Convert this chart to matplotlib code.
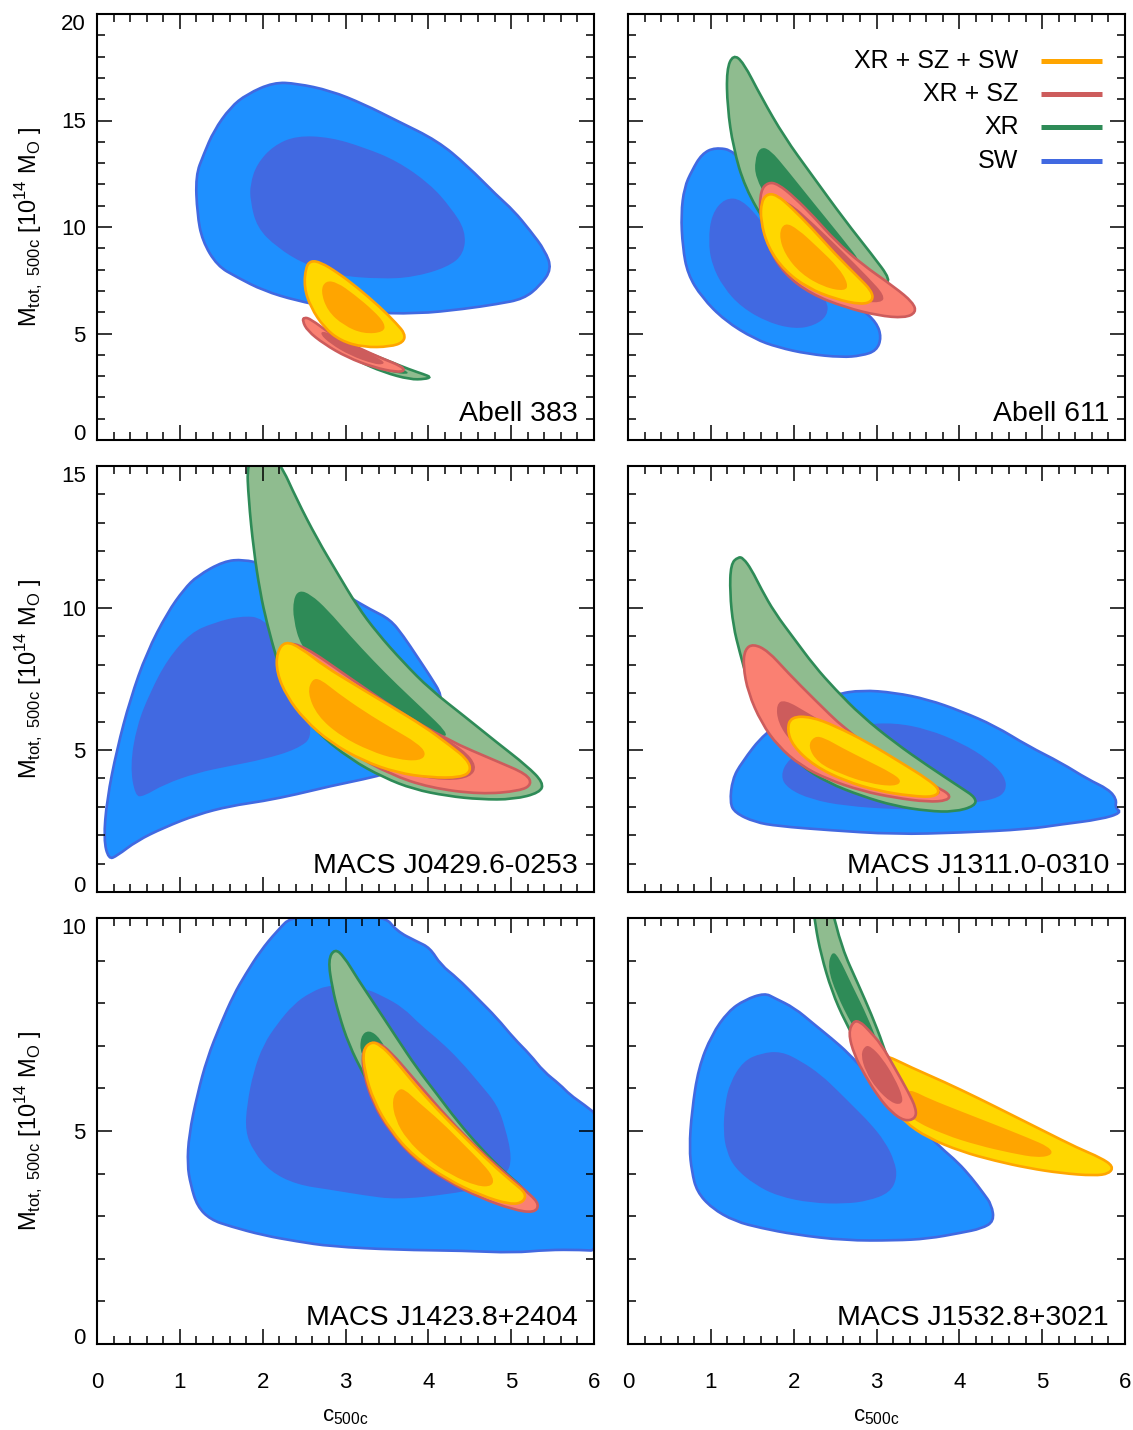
import matplotlib
matplotlib.use("Agg")
import matplotlib.pyplot as plt
from matplotlib.ticker import MultipleLocator
from matplotlib.path import Path
from matplotlib.patches import PathPatch

plt.rcParams["font.family"] = ["Liberation Sans", "DejaVu Sans"]
plt.rcParams["mathtext.fontset"] = "custom"
plt.rcParams["mathtext.rm"] = "Liberation Sans"

# colours per data combination: outer fill, inner fill, edge
SETS = ["SW", "XR", "XR + SZ", "XR + SZ + SW"]
FILL_OUTER = {"SW": "#1E90FF", "XR": "#8FBC8F", "XR + SZ": "#FA8072", "XR + SZ + SW": "#FFD700"}
FILL_INNER = {"SW": "#4169E1", "XR": "#2E8B57", "XR + SZ": "#CD5C5C", "XR + SZ + SW": "#FFA500"}
EDGE = {"SW": "#4169E1", "XR": "#2E8B57", "XR + SZ": "#CD5C5C", "XR + SZ + SW": "#FFA500"}

# contour outlines, (c500c, Mtot) pairs
A383_SW_OUT = [(1.19, 12.41), (1.21, 10.61), (1.27, 9.36), (1.45, 8.18), (1.69, 7.64), (2.01, 7.01),
               (2.41, 6.54), (2.82, 6.23), (3.22, 5.99), (3.86, 5.92), (4.43, 6.15), (4.83, 6.38),
               (5.15, 6.62), (5.35, 7.25), (5.49, 8.03), (5.41, 8.89), (5.23, 9.83), (5.03, 10.77),
               (4.83, 11.47), (4.47, 12.88), (4.11, 14.05), (3.62, 14.99), (3.22, 15.77), (2.82, 16.40),
               (2.41, 16.74), (2.13, 16.79), (1.81, 16.24), (1.61, 15.62), (1.41, 14.52), (1.29, 13.43)]
A383_SW_IN = [(1.85, 11.24), (1.93, 9.98), (2.17, 9.05), (2.50, 8.26), (2.90, 7.72), (3.42, 7.56),
              (3.82, 7.64), (4.23, 8.11), (4.43, 8.73), (4.45, 9.83), (4.27, 10.92), (4.02, 12.02),
              (3.62, 13.11), (3.22, 13.74), (2.82, 14.21), (2.41, 14.29), (2.13, 13.82), (1.93, 12.96),
              (1.85, 12.02)]
A383_XR_OUT = [(2.82, 4.51), (3.14, 3.72), (3.46, 3.18), (3.78, 2.84), (3.96, 2.86), (4.03, 2.95),
               (3.95, 3.08), (3.78, 3.30), (3.46, 3.80), (3.10, 4.35), (2.82, 4.82)]
A383_XR_IN = [(2.90, 4.19), (3.22, 3.57), (3.54, 3.18), (3.76, 3.07), (3.74, 3.26), (3.50, 3.57),
              (3.18, 4.04), (2.90, 4.51)]
A383_XRSZ_OUT = [(2.48, 5.60), (2.54, 5.13), (2.74, 4.51), (3.02, 3.88), (3.34, 3.41), (3.62, 3.18),
                 (3.72, 3.26), (3.66, 3.49), (3.46, 3.80), (3.14, 4.35), (2.82, 4.98), (2.58, 5.68),
                 (2.50, 5.76)]
A383_XRSZ_IN = [(2.69, 4.98), (2.82, 4.51), (3.06, 3.96), (3.34, 3.57), (3.46, 3.54), (3.46, 3.72),
                (3.22, 4.19), (2.94, 4.74), (2.74, 5.13)]
A383_ALL_OUT = [(2.52, 8.11), (2.50, 7.17), (2.58, 6.23), (2.74, 5.29), (2.94, 4.66), (3.22, 4.35),
                (3.54, 4.38), (3.70, 4.59), (3.72, 4.98), (3.62, 5.45), (3.42, 6.23), (3.14, 7.17),
                (2.90, 7.87), (2.70, 8.34), (2.58, 8.42)]
A383_ALL_IN = [(2.70, 7.01), (2.78, 6.07), (2.98, 5.37), (3.22, 4.98), (3.46, 5.06), (3.48, 5.45),
               (3.34, 6.07), (3.10, 6.85), (2.90, 7.40), (2.76, 7.48)]

A611_SW_OUT = [(1.05, 13.74), (1.29, 13.58), (1.53, 12.18), (1.81, 10.30), (2.13, 8.58), (2.50, 7.01),
               (2.82, 6.15), (3.00, 5.52), (3.06, 4.82), (3.00, 4.19), (2.82, 3.96), (2.58, 3.88),
               (2.17, 4.04), (1.81, 4.35), (1.53, 4.74), (1.17, 5.60), (0.89, 6.70), (0.72, 7.79),
               (0.66, 9.05), (0.64, 10.61), (0.68, 11.86), (0.77, 12.64), (0.89, 13.43)]
A611_SW_IN = [(0.97, 9.36), (1.01, 10.61), (1.17, 11.36), (1.37, 11.31), (1.61, 10.30), (1.89, 8.73),
              (2.17, 7.48), (2.41, 6.54), (2.41, 5.84), (2.25, 5.37), (2.01, 5.21), (1.69, 5.52),
              (1.37, 6.23), (1.15, 7.17), (1.01, 8.26)]
A611_XR_OUT = [(1.27, 18.10), (1.39, 17.75), (1.61, 16.09), (1.89, 14.21), (2.21, 12.49), (2.62, 10.30),
               (2.94, 8.73), (3.18, 7.48), (3.06, 7.32), (2.62, 8.11), (2.09, 9.05), (1.69, 9.98),
               (1.41, 11.86), (1.27, 13.74), (1.20, 15.62), (1.19, 17.40)]
A611_XR_IN = [(1.59, 13.74), (1.71, 13.66), (1.93, 12.64), (2.25, 11.08), (2.58, 9.51), (2.86, 8.11),
              (2.62, 8.11), (2.09, 9.98), (1.69, 11.24), (1.54, 12.33), (1.53, 13.11)]
A611_XRSZ_OUT = [(1.69, 12.10), (1.60, 11.71), (1.59, 10.61), (1.69, 9.05), (1.89, 7.79), (2.21, 6.85),
                 (2.62, 6.23), (3.02, 5.84), (3.34, 5.73), (3.48, 5.99), (3.44, 6.46), (3.22, 7.17),
                 (2.82, 8.26), (2.50, 9.36), (2.25, 10.45), (2.01, 11.39), (1.81, 12.02)]
A611_XRSZ_IN = [(1.69, 11.47), (1.65, 10.61), (1.77, 9.05), (2.01, 7.79), (2.33, 7.01), (2.74, 6.54),
                (3.06, 6.42), (3.10, 6.78), (2.90, 7.64), (2.58, 8.89), (2.25, 10.14), (1.93, 11.24)]
A611_ALL_OUT = [(1.69, 11.58), (1.61, 11.21), (1.60, 10.30), (1.69, 9.05), (1.89, 7.95), (2.17, 7.14),
                (2.50, 6.62), (2.82, 6.35), (2.96, 6.54), (2.94, 7.01), (2.78, 7.64), (2.50, 8.73),
                (2.21, 9.98), (1.97, 10.92), (1.81, 11.47)]
A611_ALL_IN = [(1.89, 10.22), (1.82, 9.67), (1.89, 8.73), (2.09, 7.79), (2.37, 7.17), (2.62, 6.98),
               (2.66, 7.32), (2.54, 8.11), (2.29, 9.05), (2.05, 9.91)]

M0429_SW_OUT = [(0.14, 1.15), (0.08, 1.85), (0.12, 3.26), (0.24, 5.02), (0.40, 6.78), (0.60, 8.43),
                (0.85, 9.84), (1.05, 10.66), (1.21, 11.13), (1.53, 11.65), (1.77, 11.71), (2.01, 11.54),
                (2.41, 11.24), (2.82, 10.77), (3.06, 10.36), (3.30, 9.95), (3.54, 9.60), (3.70, 9.01),
                (3.86, 8.31), (4.02, 7.61), (4.17, 6.90), (4.11, 6.43), (3.82, 5.38), (3.54, 4.20),
                (3.22, 3.97), (2.82, 3.73), (2.41, 3.44), (2.01, 3.20), (1.61, 3.03), (1.21, 2.73),
                (0.81, 2.27), (0.48, 1.80), (0.24, 1.27)]
M0429_SW_IN = [(0.46, 3.38), (0.40, 4.44), (0.48, 5.85), (0.64, 7.02), (0.85, 8.19), (1.13, 9.13),
               (1.41, 9.48), (1.73, 9.72), (2.01, 9.66), (2.25, 8.66), (2.46, 7.02), (2.62, 5.49),
               (2.41, 5.02), (2.01, 4.67), (1.61, 4.44), (1.21, 4.20), (0.81, 3.79), (0.56, 3.36)]
M0429_XR_OUT = [(1.81, 15.12), (1.97, 15.70), (2.21, 15.12), (2.41, 13.83), (2.66, 12.42), (2.90, 11.24),
                (3.14, 10.07), (3.38, 9.13), (3.70, 8.08), (4.02, 7.14), (4.43, 6.20), (4.83, 5.26),
                (5.19, 4.44), (5.39, 3.85), (5.35, 3.50), (5.03, 3.26), (4.63, 3.26), (4.23, 3.38),
                (3.82, 3.62), (3.46, 4.03), (3.06, 4.67), (2.66, 5.61), (2.33, 6.78), (2.17, 8.19),
                (2.05, 9.48), (1.97, 10.54), (1.89, 12.07), (1.83, 13.83)]
M0429_XR_IN = [(2.44, 10.63), (2.58, 10.48), (2.78, 9.95), (3.06, 9.01), (3.34, 8.13), (3.62, 7.31),
               (3.94, 6.43), (4.23, 5.61), (4.19, 5.43), (3.82, 5.85), (3.42, 6.55), (3.02, 7.37),
               (2.66, 8.08), (2.46, 8.66), (2.37, 9.60), (2.37, 10.31)]
M0429_XRSZ_OUT = [(2.19, 8.43), (2.27, 8.78), (2.50, 8.66), (3.02, 7.60), (3.62, 6.40), (4.23, 5.35),
                  (4.83, 4.60), (5.19, 4.15), (5.25, 3.79), (5.11, 3.56), (4.63, 3.44), (4.02, 3.67),
                  (3.54, 4.14), (3.06, 4.91), (2.58, 5.96), (2.29, 7.02), (2.19, 7.96)]
M0429_XRSZ_IN = [(2.41, 8.43), (2.82, 7.72), (3.42, 6.67), (4.02, 5.73), (4.43, 5.02), (4.59, 4.44),
                 (4.51, 4.03), (4.23, 3.91), (3.82, 4.08), (3.30, 4.67), (2.82, 5.49), (2.46, 6.55),
                 (2.33, 7.72)]
M0429_ALL_OUT = [(2.27, 8.84), (2.17, 8.43), (2.17, 7.72), (2.29, 6.90), (2.50, 6.08), (2.82, 5.26),
                 (3.22, 4.61), (3.62, 4.20), (4.02, 4.03), (4.39, 4.03), (4.52, 4.26), (4.47, 4.67),
                 (4.27, 5.14), (3.94, 5.85), (3.54, 6.55), (3.14, 7.25), (2.74, 7.96), (2.46, 8.60)]
M0429_ALL_IN = [(2.60, 7.51), (2.54, 7.02), (2.66, 6.20), (2.94, 5.49), (3.30, 4.96), (3.62, 4.67),
                (3.90, 4.61), (3.98, 4.88), (3.86, 5.26), (3.58, 5.73), (3.22, 6.37), (2.90, 7.02),
                (2.70, 7.49)]

M1311_SW_OUT = [(1.23, 3.15), (1.26, 3.97), (1.37, 4.55), (1.65, 5.61), (2.09, 6.43), (2.50, 6.96),
                (2.82, 7.11), (3.22, 7.02), (3.62, 6.78), (4.02, 6.37), (4.43, 5.85), (4.83, 5.14),
                (5.23, 4.55), (5.55, 3.97), (5.80, 3.62), (5.90, 3.26), (5.88, 2.97), (5.96, 2.79),
                (5.71, 2.56), (5.23, 2.38), (4.83, 2.21), (4.02, 2.09), (3.22, 2.03), (2.41, 2.18),
                (1.81, 2.32), (1.53, 2.46), (1.29, 2.79)]
M1311_SW_IN = [(1.84, 4.08), (1.93, 4.67), (2.25, 5.26), (2.82, 5.90), (3.22, 5.96), (3.62, 5.73),
               (4.02, 5.26), (4.35, 4.67), (4.55, 4.08), (4.57, 3.56), (4.43, 3.26), (4.02, 3.09),
               (3.62, 2.91), (3.22, 2.91), (2.62, 3.03), (2.21, 3.26), (1.93, 3.64)]
M1311_XR_OUT = [(1.33, 11.80), (1.24, 11.55), (1.23, 10.54), (1.27, 9.37), (1.35, 8.43), (1.45, 7.37),
                (1.61, 6.20), (1.81, 5.26), (2.09, 4.44), (2.41, 3.85), (2.82, 3.38), (3.22, 3.03),
                (3.62, 2.85), (3.94, 2.82), (4.19, 3.03), (4.20, 3.32), (4.02, 3.67), (3.62, 4.44),
                (3.22, 5.26), (2.82, 6.20), (2.50, 7.14), (2.25, 7.96), (2.01, 8.90), (1.77, 9.84),
                (1.61, 10.66), (1.49, 11.36), (1.39, 11.76)]
M1311_XRSZ_OUT = [(1.51, 8.74), (1.41, 8.54), (1.39, 7.96), (1.45, 7.02), (1.61, 5.96), (1.81, 5.14),
                  (2.09, 4.44), (2.41, 3.97), (2.82, 3.56), (3.22, 3.32), (3.62, 3.17), (3.86, 3.22),
                  (3.89, 3.44), (3.70, 3.73), (3.42, 4.20), (3.02, 4.91), (2.62, 5.73), (2.25, 6.78),
                  (1.93, 7.72), (1.69, 8.49)]
M1311_XRSZ_IN = [(1.89, 6.78), (1.79, 6.61), (1.81, 5.96), (1.97, 5.26), (2.25, 4.67), (2.62, 4.08),
                 (3.02, 3.67), (3.42, 3.44), (3.74, 3.38), (3.78, 3.56), (3.62, 3.85), (3.30, 4.32),
                 (2.90, 5.02), (2.50, 5.73), (2.17, 6.31)]
M1311_ALL_OUT = [(1.97, 6.17), (1.92, 5.73), (1.99, 5.14), (2.25, 4.44), (2.62, 3.91), (3.02, 3.56),
                 (3.42, 3.38), (3.70, 3.34), (3.77, 3.59), (3.62, 3.97), (3.30, 4.55), (2.90, 5.26),
                 (2.50, 5.85), (2.21, 6.17)]
M1311_ALL_IN = [(2.25, 5.49), (2.17, 5.14), (2.29, 4.55), (2.58, 4.14), (2.90, 3.83), (3.22, 3.71),
                (3.31, 3.91), (3.18, 4.20), (2.90, 4.61), (2.58, 5.08), (2.37, 5.43)]

M1423_SW_OUT = [(1.09, 4.21), (1.11, 4.91), (1.21, 5.85), (1.33, 6.71), (1.49, 7.50), (1.65, 8.20),
                (1.79, 8.67), (1.97, 9.22), (2.17, 9.69), (2.37, 10.08), (3.46, 10.08), (3.62, 9.69),
                (3.86, 9.45), (4.02, 9.30), (4.15, 8.90), (4.35, 8.59), (4.59, 8.12), (4.83, 7.65),
                (5.03, 7.18), (5.23, 6.79), (5.39, 6.40), (5.59, 6.09), (5.71, 5.85), (5.88, 5.62),
                (6.08, 5.31), (6.08, 2.18), (5.84, 2.21), (5.43, 2.21), (5.03, 2.14), (4.43, 2.19),
                (3.62, 2.21), (2.82, 2.29), (2.41, 2.41), (2.01, 2.55), (1.61, 2.76), (1.37, 2.92),
                (1.21, 3.23), (1.13, 3.74)]
M1423_SW_IN = [(1.79, 4.99), (1.81, 5.62), (1.89, 6.40), (2.01, 7.03), (2.17, 7.50), (2.37, 7.97),
               (2.58, 8.26), (2.82, 8.44), (3.22, 8.36), (3.46, 8.16), (3.70, 7.89), (3.90, 7.50),
               (4.15, 7.10), (4.39, 6.64), (4.63, 6.09), (4.83, 5.62), (4.93, 5.07), (5.01, 4.37),
               (4.95, 3.97), (4.63, 3.66), (4.23, 3.51), (3.62, 3.39), (3.22, 3.49), (2.82, 3.62),
               (2.41, 3.74), (2.09, 4.05), (1.89, 4.52)]
M1423_XR_OUT = [(2.87, 9.28), (2.79, 9.02), (2.84, 8.36), (2.92, 7.73), (3.04, 7.03), (3.22, 6.32),
                (3.42, 5.62), (3.62, 4.99), (3.86, 4.44), (4.23, 3.90), (4.63, 3.51), (5.03, 3.26),
                (5.20, 3.35), (5.15, 3.66), (4.91, 4.05), (4.63, 4.60), (4.35, 5.23), (4.11, 5.85),
                (3.86, 6.48), (3.62, 7.18), (3.38, 7.89), (3.14, 8.59), (2.98, 9.10)]
M1423_XR_IN = [(3.28, 7.38), (3.18, 7.22), (3.18, 6.79), (3.34, 6.48), (3.54, 6.71), (3.42, 7.18)]
M1423_XRSZ_OUT = [(3.30, 7.07), (3.20, 6.87), (3.22, 6.32), (3.34, 5.62), (3.54, 4.99), (3.82, 4.37),
                  (4.23, 3.82), (4.63, 3.43), (5.03, 3.15), (5.28, 3.08), (5.34, 3.27), (5.23, 3.51),
                  (4.99, 3.90), (4.63, 4.52), (4.23, 5.31), (3.82, 6.24), (3.54, 6.87), (3.40, 7.07)]
M1423_ALL_OUT = [(3.31, 7.10), (3.21, 6.90), (3.23, 6.40), (3.34, 5.70), (3.54, 5.03), (3.82, 4.41),
                 (4.23, 3.86), (4.63, 3.49), (4.99, 3.27), (5.15, 3.33), (5.18, 3.54), (5.03, 3.78),
                 (4.75, 4.25), (4.43, 4.87), (4.11, 5.50), (3.82, 6.13), (3.58, 6.71), (3.42, 7.02)]
M1423_ALL_IN = [(3.64, 5.99), (3.56, 5.74), (3.60, 5.27), (3.74, 4.80), (3.98, 4.35), (4.27, 3.97),
                (4.59, 3.70), (4.77, 3.70), (4.79, 3.90), (4.67, 4.21), (4.43, 4.68), (4.15, 5.23),
                (3.86, 5.71), (3.72, 5.97)]

M1532_SW_OUT = [(0.74, 4.60), (0.77, 5.46), (0.85, 6.48), (1.01, 7.26), (1.21, 7.81), (1.41, 8.08),
                (1.65, 8.24), (1.77, 8.12), (2.01, 7.89), (2.25, 7.50), (2.46, 7.17), (2.66, 6.83),
                (2.90, 6.32), (3.22, 5.70), (3.54, 5.07), (3.78, 4.60), (3.98, 4.27), (4.15, 3.90),
                (4.29, 3.54), (4.39, 3.27), (4.42, 2.88), (4.27, 2.71), (4.02, 2.61), (3.62, 2.47),
                (3.22, 2.43), (2.62, 2.43), (2.01, 2.57), (1.61, 2.72), (1.29, 2.88), (1.01, 3.19),
                (0.83, 3.58), (0.77, 4.05)]
M1532_SW_IN = [(1.15, 4.99), (1.17, 5.62), (1.23, 6.13), (1.39, 6.64), (1.61, 6.83), (1.85, 6.87),
               (2.09, 6.64), (2.33, 6.32), (2.54, 5.93), (2.74, 5.54), (2.92, 5.19), (3.10, 4.76),
               (3.22, 4.29), (3.25, 3.90), (3.16, 3.55), (2.90, 3.36), (2.62, 3.29), (2.21, 3.31),
               (1.81, 3.47), (1.53, 3.74), (1.29, 4.13), (1.19, 4.52)]
M1532_XR_OUT = [(2.23, 10.40), (2.44, 10.40), (2.58, 9.30), (2.78, 8.44), (2.94, 7.73), (3.08, 7.03),
                (3.18, 6.40), (3.06, 6.32), (2.82, 6.87), (2.62, 7.57), (2.46, 8.28), (2.33, 9.14),
                (2.26, 9.84)]
M1532_XR_IN = [(2.46, 9.22), (2.54, 9.10), (2.70, 8.44), (2.90, 7.65), (3.04, 6.95), (2.90, 6.87),
               (2.70, 7.50), (2.52, 8.20), (2.41, 8.83)]
M1532_XRSZ_OUT = [(2.72, 7.58), (2.66, 7.30), (2.73, 6.79), (2.86, 6.31), (3.02, 5.81), (3.18, 5.44),
                  (3.34, 5.23), (3.47, 5.29), (3.48, 5.52), (3.38, 5.93), (3.22, 6.48), (3.06, 7.03),
                  (2.90, 7.38), (2.80, 7.57)]
M1532_XRSZ_IN = [(2.86, 7.00), (2.81, 6.79), (2.87, 6.39), (3.00, 5.99), (3.18, 5.66), (3.30, 5.62),
                 (3.32, 5.79), (3.22, 6.24), (3.07, 6.71), (2.93, 6.99)]
M1532_ALL_OUT = [(2.82, 6.71), (3.06, 6.83), (3.42, 6.49), (3.82, 6.15), (4.23, 5.77), (4.63, 5.38),
                 (5.03, 4.99), (5.43, 4.60), (5.71, 4.37), (5.86, 4.17), (5.81, 4.00), (5.63, 3.95),
                 (5.23, 4.01), (4.83, 4.13), (4.43, 4.30), (4.02, 4.52), (3.62, 4.84), (3.34, 5.21),
                 (3.10, 5.74), (2.92, 6.24)]
M1532_ALL_IN = [(3.38, 5.95), (3.28, 5.66), (3.42, 5.27), (3.82, 4.91), (4.23, 4.66), (4.63, 4.48),
                (4.95, 4.37), (5.13, 4.44), (5.09, 4.62), (4.83, 4.84), (4.43, 5.15), (4.02, 5.46),
                (3.62, 5.77), (3.46, 5.93)]

CLUSTERS = ["Abell 383", "Abell 611", "MACS J0429.6-0253", "MACS J1311.0-0310",
            "MACS J1423.8+2404", "MACS J1532.8+3021"]
Y_MAX = [20, 20, 15, 15, 10, 10]
Y_TICKS = [[0, 5, 10, 15, 20], [0, 5, 10, 15, 20], [0, 5, 10, 15], [0, 5, 10, 15], [0, 5, 10], [0, 5, 10]]
X_TICKS = [0, 1, 2, 3, 4, 5, 6]

CONTOURS = {
    "Abell 383": {"SW": (A383_SW_OUT, A383_SW_IN), "XR": (A383_XR_OUT, A383_XR_IN),
                  "XR + SZ": (A383_XRSZ_OUT, A383_XRSZ_IN), "XR + SZ + SW": (A383_ALL_OUT, A383_ALL_IN)},
    "Abell 611": {"SW": (A611_SW_OUT, A611_SW_IN), "XR": (A611_XR_OUT, A611_XR_IN),
                  "XR + SZ": (A611_XRSZ_OUT, A611_XRSZ_IN), "XR + SZ + SW": (A611_ALL_OUT, A611_ALL_IN)},
    "MACS J0429.6-0253": {"SW": (M0429_SW_OUT, M0429_SW_IN), "XR": (M0429_XR_OUT, M0429_XR_IN),
                          "XR + SZ": (M0429_XRSZ_OUT, M0429_XRSZ_IN),
                          "XR + SZ + SW": (M0429_ALL_OUT, M0429_ALL_IN)},
    "MACS J1311.0-0310": {"SW": (M1311_SW_OUT, M1311_SW_IN), "XR": (M1311_XR_OUT, None),
                          "XR + SZ": (M1311_XRSZ_OUT, M1311_XRSZ_IN),
                          "XR + SZ + SW": (M1311_ALL_OUT, M1311_ALL_IN)},
    "MACS J1423.8+2404": {"SW": (M1423_SW_OUT, M1423_SW_IN), "XR": (M1423_XR_OUT, M1423_XR_IN),
                          "XR + SZ": (M1423_XRSZ_OUT, None),
                          "XR + SZ + SW": (M1423_ALL_OUT, M1423_ALL_IN)},
    "MACS J1532.8+3021": {"SW": (M1532_SW_OUT, M1532_SW_IN), "XR": (M1532_XR_OUT, M1532_XR_IN),
                          "XR + SZ": (M1532_XRSZ_OUT, M1532_XRSZ_IN),
                          "XR + SZ + SW": (M1532_ALL_OUT, M1532_ALL_IN)},
}
# in the last cluster the XR + SZ contour sits on top of the combined one
DRAW_ORDER = {"MACS J1532.8+3021": ["SW", "XR", "XR + SZ + SW", "XR + SZ"]}

LEGEND_ORDER = ["XR + SZ + SW", "XR + SZ", "XR", "SW"]

fig = plt.figure(figsize=(11.33, 14.30), dpi=100)
lefts = [97 / 1133, 628 / 1133]
width = 497 / 1133
bottoms = [(1430 - 440) / 1430, (1430 - 892) / 1430, (1430 - 1344) / 1430]
height = 426 / 1430


def outline(pts):
    # closed outline through the read points, drawn with quadratic curve segments
    n = len(pts)
    mids = [((pts[k][0] + pts[(k + 1) % n][0]) / 2, (pts[k][1] + pts[(k + 1) % n][1]) / 2)
            for k in range(n)]
    verts = [mids[0]]
    codes = [Path.MOVETO]
    for k in range(1, n + 1):
        verts += [pts[k % n], mids[k % n]]
        codes += [Path.CURVE3, Path.CURVE3]
    verts.append(mids[0])
    codes.append(Path.CLOSEPOLY)
    return Path(verts, codes)


def draw_set(ax, outer, inner, name):
    p = outline(outer)
    ax.add_patch(PathPatch(p, facecolor=FILL_OUTER[name], edgecolor="none"))
    if inner is not None:
        ax.add_patch(PathPatch(outline(inner), facecolor=FILL_INNER[name], edgecolor="none"))
    ax.add_patch(PathPatch(p, facecolor="none", edgecolor=EDGE[name], linewidth=1.9))


for i, name in enumerate(CLUSTERS):
    row, col = divmod(i, 2)
    ax = fig.add_axes([lefts[col], bottoms[row], width, height])

    for s in DRAW_ORDER.get(name, SETS):
        outer, inner = CONTOURS[name][s]
        draw_set(ax, outer, inner, s)

    ax.set_xlim(0, 6)
    ax.set_ylim(0, Y_MAX[i])
    ax.set_xticks(X_TICKS)
    ax.set_yticks(Y_TICKS[i])
    ax.xaxis.set_minor_locator(MultipleLocator(0.2))
    ax.yaxis.set_minor_locator(MultipleLocator(1))
    ax.tick_params(which="both", direction="in", top=True, right=True, width=1.1,
                   labelsize=16, colors="black")
    ax.tick_params(which="major", length=11)
    ax.tick_params(which="minor", length=5.8)
    ax.tick_params(axis="x", pad=20)
    ax.tick_params(axis="y", pad=8)
    for sp in ax.spines.values():
        sp.set_linewidth(1.5)

    if col == 0:
        ax.set_ylabel(r"M$_{\mathrm{tot,\ 500c}}$ [10$^{14}$ M$_{\mathrm{O}}$ ]", fontsize=17)
        ax.yaxis.set_label_coords(-0.105, 0.5)
        labels = ax.get_yticklabels()
        labels[0].set_va("baseline")
        labels[-1].set_va("top")
    else:
        ax.tick_params(labelleft=False)
    if row == 2:
        ax.set_xlabel(r"c$_{\mathrm{500c}}$", fontsize=16)
        ax.xaxis.set_label_coords(0.5, -0.145)
    else:
        ax.tick_params(labelbottom=False)

    ax.text(0.968, 0.045, name, transform=ax.transAxes, ha="right", va="baseline", fontsize=20.5)

    if name == "Abell 611":
        for k, s in enumerate(LEGEND_ORDER):
            y = 0.890 - k * 0.078
            ax.text(0.786, y, s, transform=ax.transAxes, ha="right", va="center", fontsize=18)
            ax.plot([0.83, 0.953], [y, y], transform=ax.transAxes, color=EDGE[s],
                    linewidth=3.6, solid_capstyle="butt")

fig.savefig("out.png", dpi=100)
